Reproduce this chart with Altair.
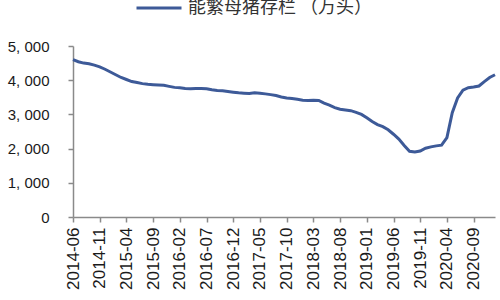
import altair as alt
import pandas as pd

series_name = "能繁母猪存栏 （万头）"
start_year, start_month = 2014, 6
values = [4600, 4540, 4500, 4480, 4440, 4390, 4320, 4240, 4160, 4080,
          4020, 3960, 3930, 3900, 3880, 3870, 3860, 3850, 3820, 3790,
          3780, 3760, 3750, 3760, 3755, 3750, 3720, 3700, 3690, 3670,
          3650, 3630, 3620, 3610, 3630, 3620, 3600, 3578, 3550, 3510,
          3480, 3465, 3440, 3415, 3410, 3415, 3410, 3330, 3270, 3200,
          3150, 3130, 3110, 3060, 3000, 2900, 2790, 2700, 2640, 2550,
          2420, 2280, 2090, 1920, 1900, 1930, 2010, 2050, 2080, 2100,
          2320, 3050, 3480, 3710, 3780, 3800, 3830, 3960, 4080, 4160]
tick_labels = ["2014-06", "2014-11", "2015-04", "2015-09", "2016-02", "2016-07",
               "2016-12", "2017-05", "2017-10", "2018-03", "2018-08", "2019-01",
               "2019-06", "2019-11", "2020-04", "2020-09"]
y_ticks = [0, 1000, 2000, 3000, 4000, 5000]

months = []
for i in range(len(values)):
    m = start_month - 1 + i
    months.append(f"{start_year + m // 12}-{m % 12 + 1:02d}")

df = pd.DataFrame({"idx": list(range(len(values))), "month": months,
                   "value": values, "series": series_name})

label_arr = "[" + ",".join(f"'{t}'" for t in tick_labels) + "]"

line = alt.Chart(df).mark_line(strokeWidth=3).encode(
    x=alt.X("idx:Q",
            scale=alt.Scale(domain=[0, len(values) - 1], nice=False, zero=False),
            axis=alt.Axis(title=None, values=list(range(0, 80, 5)),
                          labelExpr=f"{label_arr}[round(datum.value / 5)]",
                          labelAngle=270, labelFontSize=17, labelPadding=5,
                          tickSize=5, grid=False)),
    y=alt.Y("value:Q",
            scale=alt.Scale(domain=[0, 5000], nice=False),
            axis=alt.Axis(title=None, values=y_ticks,
                          labelExpr="replace(format(datum.value, ','), ',', ', ')",
                          labelFontSize=15, labelPadding=19, tickSize=5, grid=False)),
    color=alt.Color("series:N",
                    scale=alt.Scale(range=["#3D5A98"]),
                    legend=alt.Legend(title=None, orient="none", legendX=62, legendY=-62,
                                      symbolType="stroke", symbolSize=2025,
                                      symbolStrokeWidth=3, labelFontSize=18,
                                      labelFont="Noto Sans CJK SC", labelColor="#333333",
                                      labelOffset=5, labelLimit=400)),
)

chart = line.properties(
    width=422, height=171,
    autosize=alt.AutoSizeParams(type="none"),
    padding={"left": 73, "top": 46, "right": 5, "bottom": 83},
).configure_view(stroke=None).configure_axis(
    domainColor="#8a8a8a", tickColor="#8a8a8a", labelColor="#1a1a1a",
    labelFont="Liberation Sans", domainWidth=1.5, tickWidth=1.5,
)

chart.save("out.html", embed_options={"renderer": "svg", "actions": False})
